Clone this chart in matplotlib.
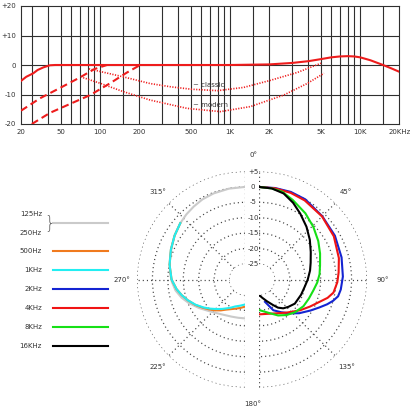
import matplotlib
matplotlib.use('Agg')
import matplotlib.pyplot as plt
import matplotlib.transforms as mtransforms
from matplotlib.ticker import NullLocator
import numpy as np

plt.rcParams['font.family'] = ['Liberation Sans Narrow', 'DejaVu Sans']

# ---------------- frequency response (top chart) ----------------
flat_f = [24.6, 27, 30.6, 33, 36.6, 41, 45, 50, 1000, 2000, 3000, 4000, 5000, 6000,
          7000, 8000, 9000, 10000, 12000, 15000, 17500, 20000]
flat_db = [-5.4, -4.0, -2.8, -1.7, -0.8, -0.1, 0, 0, 0, 0.2, 0.7, 1.3, 2.0, 2.6,
           2.9, 3.0, 2.9, 2.6, 1.6, 0, -1.2, -2.3]

cut1_f = [24.6, 34.4, 50, 70, 90, 112.6]
cut1_db = [-15.5, -11.3, -7.6, -4.2, -1.4, 0]

cut2_f = [29.8, 41.2, 60, 83.7, 119, 160, 203]
cut2_db = [-20, -16.2, -13, -10.2, -6.2, -2.6, 0]

classic_f = [82, 100, 150, 243, 350, 500, 800, 1270, 2040, 3300, 5000]
classic_db = [-1.3, -2.2, -4.0, -6.3, -7.4, -8.2, -8.7, -7.6, -5.2, -2.5, 0.6]

modern_f = [74, 100, 150, 243, 466, 840, 1430, 2580, 3940, 5270]
modern_db = [-4.3, -6.2, -9.0, -11.9, -14.7, -15.8, -14.1, -10.2, -6.2, -2.8]

grid_f = [30, 40, 50, 60, 70, 80, 90, 100, 150, 200, 300, 400, 500, 600, 700, 800, 900,
          1000, 1500, 2000, 3000, 4000, 5000, 6000, 7000, 8000, 9000, 10000, 15000]
tick_f = [24.6, 50, 100, 200, 500, 1000, 2000, 5000, 10000, 20000]
tick_lab = ['20', '50', '100', '200', '500', '1K', '2K', '5K', '10K', '20KHz']
ytick_v = [-20, -10, 0, 10, 20]
ytick_lab = ['-20', '-10', '0', '+10', '+20']

# ---------------- polar pattern (bottom chart) ----------------
rings = [-25, -20, -15, -10, -5, 0, 5]
ring_lab = ['-25', '-20', '-15', '-10', '-5', '0', '+5']

gray_t = [360, 350, 340, 332, 325, 318, 311, 302, 294, 285, 275, 268, 261, 254, 247, 238,
          228, 215, 200, 190, 180]
gray_db = [0, -0.1, -0.3, -0.6, -1.1, -1.6, -2.2, -3.1, -4.0, -4.8, -5.6, -6.3, -7.2, -8.6,
           -10.3, -12.5, -14.6, -16.3, -17.2, -17.4, -17.4]

cyan_t = [311, 302, 292, 281, 270, 262, 256, 250, 243, 236, 230, 224, 218, 212, 206, 200, 190, 180]
cyan_db = [-2.2, -3.1, -4.1, -5.1, -6.2, -7.6, -8.9, -10.3, -12.0, -13.8, -15.3, -16.7, -17.9,
           -19.0, -19.9, -20.7, -21.4, -21.9]

orange_t = [311, 302, 292, 281, 270, 262, 256, 250, 243, 236, 230, 224, 218, 212, 206, 200, 190, 180]
orange_db = [-2.2, -3.1, -4.1, -5.1, -6.2, -7.6, -8.9, -10.3, -11.9, -13.6, -14.9, -16.1, -17.3,
             -18.5, -19.3, -19.9, -20.6, -21.2]

blue_t = [0, 10, 20, 30, 45, 60, 75, 88, 97, 102, 106, 110, 115, 121, 130, 137, 146, 155, 165]
blue_db = [0, 0.1, 0.2, 0, -1.0, -1.6, -2.3, -2.8, -3.3, -3.8, -5.0, -6.5, -8.5, -10.5, -13,
           -15, -17.2, -19, -22.5]

red_t = [0, 10, 20, 30, 45, 60, 75, 85, 92, 100, 105, 110, 118, 127, 140, 152, 165, 180]
red_db = [0, 0, -0.1, -0.4, -1.1, -2.0, -3.2, -4.1, -4.6, -5.5, -7.0, -9.0, -11.3, -13.4,
          -16, -17.6, -18.5, -18.7]

green_t = [0, 8, 15, 23, 35, 46, 57, 67, 77, 85, 93, 101, 111, 121, 132, 142, 152, 162, 171, 180]
green_db = [0, -0.2, -0.6, -2, -3.8, -5.5, -7.1, -8.5, -9.7, -10.3, -11.1, -12, -12.7, -13.2,
            -14.2, -15.4, -16.8, -18.5, -19.5, -20.1]

black_t = [0, 8, 16, 24, 32, 42, 52, 62, 72, 80, 90, 99, 110, 124, 133, 140, 146, 151, 160, 170, 180]
black_db = [0, -0.2, -1, -2.8, -4.8, -7, -9.1, -11, -12.4, -13.2, -14.2, -15, -15.5, -16, -17,
            -17.8, -19, -20.5, -22.5, -24, -25]

legend_labels = ['500Hz', '1KHz', '2KHz', '4KHz', '8KHz', '16KHz']
legend_colors = ['#f07a1e', '#22eef2', '#1424d2', '#f01414', '#16e016', '#000000']
C_GRAY = '#cacaca'

TXT = '#333333'
GRID = '#2f2f2f'
RED = '#ee1c1c'
FS = 5.0

W = H = 416.0
fig = plt.figure(figsize=(4.16, 4.16), dpi=100)


def px_rect(x0, y0, x1, y1):
    return [x0 / W, 1 - y1 / H, (x1 - x0) / W, (y1 - y0) / H]


# ---------- top: frequency response ----------
ax = fig.add_axes(px_rect(21, 6, 399.3, 124))
ax.set_xscale('log')
ax.set_xlim(24.6, 20000)
ax.set_ylim(-20, 20)
for f in grid_f:
    ax.axvline(f, color=GRID, lw=0.8, zorder=1)
for v in [-10, 0, 10]:
    ax.axhline(v, color=GRID, lw=0.8, zorder=1)
for s in ax.spines.values():
    s.set_color(GRID)
    s.set_linewidth(0.8)
ax.set_xticks(tick_f, tick_lab)
ax.xaxis.set_minor_locator(NullLocator())
ax.set_yticks(ytick_v, ytick_lab)
ax.tick_params(length=0, labelsize=FS, colors=TXT, pad=3.6)

ax.plot(flat_f, flat_db, color=RED, lw=1.5, zorder=3)
ax.plot(cut1_f, cut1_db, color=RED, lw=1.5, dashes=(3.5, 2.0), zorder=3)
ax.plot(cut2_f, cut2_db, color=RED, lw=1.5, dashes=(3.5, 2.0), zorder=3)
ax.plot(classic_f, classic_db, color=RED, lw=1.2, linestyle=(0, (0.7, 0.9)), zorder=3)
ax.plot(modern_f, modern_db, color=RED, lw=1.2, linestyle=(0, (0.7, 0.9)), zorder=3)
ax.text(520, -6.7, '~ classic', fontsize=FS, color=TXT, ha='left', va='center', zorder=4)
ax.text(520, -13.6, '~ modern', fontsize=FS, color=TXT, ha='left', va='center', zorder=4)


# ---------- bottom: polar pattern (two halves) ----------
def half_polar(rect, tmin, tmax):
    p = fig.add_axes(rect, projection='polar')
    p.set_theta_zero_location('N')
    p.set_theta_direction(-1)
    p.set_thetamin(tmin)
    p.set_thetamax(tmax)
    p.set_rorigin(-30)
    p.set_rlim(-25, 5)
    p.set_rgrids(rings, labels=[''] * len(rings))
    sp = [a for a in range(0, 361, 45) if tmin <= a <= tmax]
    p.set_thetagrids(sp, labels=[''] * len(sp))
    p.tick_params(length=0)
    p.grid(True, color='#444444', lw=0.9, linestyle=(0, (0.9, 2.4)))
    for gl in p.yaxis.get_gridlines():
        gl.set_clip_on(False)
    # polar draw() re-enables start/end/inner spines, so make them transparent instead
    for s in p.spines.values():
        s.set_color('none')
        s.set_linewidth(0)
    p.patch.set_alpha(0)
    return p


# a half wedge is centred inside a square box: circle centre sits at 1/4 or 3/4 of the width
R = 108
CY = 279.5
CXR, CXL = 259, 245
pr = half_polar(px_rect(CXR - R / 2, CY - R, CXR + 1.5 * R, CY + R), 0, 180)
pl = half_polar(px_rect(CXL - 1.5 * R, CY - R, CXL + R / 2, CY + R), 180, 360)

pl.plot(np.deg2rad(gray_t), gray_db, color=C_GRAY, lw=1.5, zorder=3)
pl.plot(np.deg2rad(orange_t), orange_db, color=legend_colors[0], lw=1.5, zorder=4)
pl.plot(np.deg2rad(cyan_t), cyan_db, color=legend_colors[1], lw=1.5, zorder=5)

pr.plot(np.deg2rad(blue_t), blue_db, color=legend_colors[2], lw=1.5, zorder=3)
pr.plot(np.deg2rad(red_t), red_db, color=legend_colors[3], lw=1.5, zorder=4)
pr.plot(np.deg2rad(green_t), green_db, color=legend_colors[4], lw=1.5, zorder=5)
pr.plot(np.deg2rad(black_t), black_db, color=legend_colors[5], lw=1.5, zorder=6)

# radial labels in the gap between halves
mid = mtransforms.offset_copy(pr.transData, fig=fig, x=-6, y=0, units='dots')
for v, lab in zip(rings, ring_lab):
    pr.text(0, v, lab, transform=mid, fontsize=FS, color=TXT, ha='center', va='center',
            clip_on=False)
pr.text(0, 10.3, '0°', transform=mid, fontsize=FS, color=TXT, ha='center', va='center',
        clip_on=False)
pr.text(np.pi, 10.3, '180°', transform=mid, fontsize=FS, color=TXT, ha='center',
        va='center', clip_on=False)
for a in [45, 90, 135]:
    pr.text(np.deg2rad(a), 10, f'{a}°', fontsize=FS, color=TXT, ha='center', va='center',
            clip_on=False)
for a in [225, 270, 315]:
    pl.text(np.deg2rad(a), 10, f'{a}°', fontsize=FS, color=TXT, ha='center', va='center',
            clip_on=False)

# ---------- legend ----------
lg = fig.add_axes([0, 0, 1, 1], zorder=-1)
lg.set_xlim(0, W)
lg.set_ylim(H, 0)
lg.axis('off')
lg.text(42, 214, '125Hz', fontsize=FS, color=TXT, ha='right', va='center')
lg.text(42, 233, '250Hz', fontsize=FS, color=TXT, ha='right', va='center')
lg.text(44, 223.5, '}', fontsize=12, color='#555555', ha='left', va='center',
        family='DejaVu Sans', fontweight='light')
lg.plot([53, 108], [223, 223], color=C_GRAY, lw=1.5)
for i, (lab, col) in enumerate(zip(legend_labels, legend_colors)):
    y = 251 + i * 19
    lg.text(42, y, lab, fontsize=FS, color=TXT, ha='right', va='center')
    lg.plot([53, 108], [y, y], color=col, lw=1.5)

fig.savefig('out.png', dpi=100)
